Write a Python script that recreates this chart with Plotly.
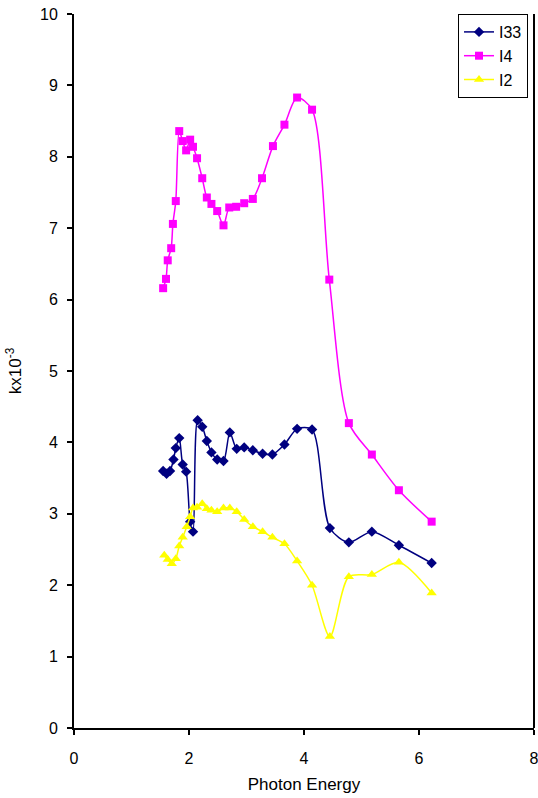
import plotly.graph_objects as go

# I33 (navy diamonds)
x_i33 = [1.55, 1.61, 1.67, 1.73, 1.77, 1.83, 1.89, 1.95, 2.02, 2.07, 2.15, 2.23, 2.31, 2.39,
         2.49, 2.60, 2.71, 2.83, 2.96, 3.11, 3.28, 3.45, 3.66, 3.88, 4.14, 4.45, 4.78, 5.18,
         5.65, 6.22]
y_i33 = [3.60, 3.56, 3.60, 3.76, 3.92, 4.06, 3.69, 3.59, 2.89, 2.75, 4.31, 4.22, 4.02, 3.86,
         3.76, 3.74, 4.14, 3.91, 3.93, 3.89, 3.84, 3.83, 3.97, 4.19, 4.18, 2.80, 2.60, 2.75,
         2.56, 2.31]

# I4 (magenta squares)
x_i4 = [1.55, 1.60, 1.63, 1.69, 1.72, 1.77, 1.83, 1.89, 1.95, 2.02, 2.07, 2.14, 2.23, 2.31,
        2.39, 2.49, 2.60, 2.70, 2.82, 2.96, 3.11, 3.27, 3.46, 3.66, 3.88, 4.14, 4.44, 4.78,
        5.18, 5.65, 6.22]
y_i4 = [6.16, 6.29, 6.55, 6.72, 7.06, 7.38, 8.36, 8.22, 8.09, 8.24, 8.14, 7.98, 7.70, 7.43,
        7.34, 7.24, 7.04, 7.29, 7.30, 7.35, 7.41, 7.70, 8.15, 8.45, 8.83, 8.66, 6.28, 4.27,
        3.83, 3.33, 2.89]

# I2 (yellow triangles)
x_i2 = [1.57, 1.63, 1.70, 1.77, 1.83, 1.89, 1.96, 2.02, 2.07, 2.14, 2.23, 2.31, 2.39, 2.49,
        2.60, 2.71, 2.83, 2.96, 3.11, 3.28, 3.45, 3.66, 3.88, 4.14, 4.45, 4.78, 5.18, 5.65,
        6.22]
y_i2 = [2.42, 2.36, 2.30, 2.37, 2.55, 2.67, 2.82, 2.96, 3.08, 3.09, 3.14, 3.07, 3.05, 3.03,
        3.08, 3.08, 3.03, 2.92, 2.82, 2.75, 2.67, 2.58, 2.34, 2.00, 1.28, 2.12, 2.15, 2.32,
        1.89]

series = [
    ("I33", x_i33, y_i33, "#000080", "diamond", 8),
    ("I4", x_i4, y_i4, "#FF00FF", "square", 8),
    ("I2", x_i2, y_i2, "#FFFF00", "triangle-up", 9),
]

fig = go.Figure()
for name, xs, ys, color, sym, size in series:
    fig.add_trace(go.Scatter(
        x=xs, y=ys, name=name, mode="lines+markers",
        line=dict(color=color, width=1.5, shape="spline", smoothing=0.8),
        marker=dict(symbol=sym, size=size, color=color),
    ))

FAM = "Liberation Sans, Arial, sans-serif"
font = dict(family=FAM, size=16, color="black")
fig.update_layout(
    width=538, height=798,
    margin=dict(l=74, r=4, t=14, b=70, autoexpand=False),
    paper_bgcolor="white", plot_bgcolor="white",
    font=font,
    showlegend=True,
    legend=dict(x=0.987, xanchor="right", y=1.0, yanchor="top",
                bordercolor="black", borderwidth=1, bgcolor="white",
                font=dict(family=FAM, size=16),
                itemwidth=30, tracegroupgap=0),
)
fig.update_xaxes(range=[0, 8], dtick=2, tick0=0, showgrid=False, zeroline=False,
                 showline=True, linecolor="black", linewidth=2, automargin=False,
                 ticks="outside", ticklen=5, tickwidth=1.5, tickcolor="black",
                 ticklabeloverflow="allow", ticklabelstandoff=10,
                 tickfont=dict(family=FAM, size=16),
                 title=dict(text="Photon Energy", font=dict(family=FAM, size=17), standoff=12))
fig.update_yaxes(range=[0, 10], dtick=1, tick0=0, showgrid=False, zeroline=False,
                 showline=True, linecolor="black", linewidth=2, mirror=False, automargin=False,
                 ticks="outside", ticklen=5, tickwidth=1.5, tickcolor="black",
                 ticklabelstandoff=6,
                 tickfont=dict(family=FAM, size=16),
                 title=dict(text="kx10<sup>-3</sup>", font=dict(family=FAM, size=17), standoff=14))
fig.add_shape(type="line", xref="paper", yref="paper", x0=1, x1=1, y0=0, y1=1,
              line=dict(color="black", width=2))

fig.write_html("out.html")
